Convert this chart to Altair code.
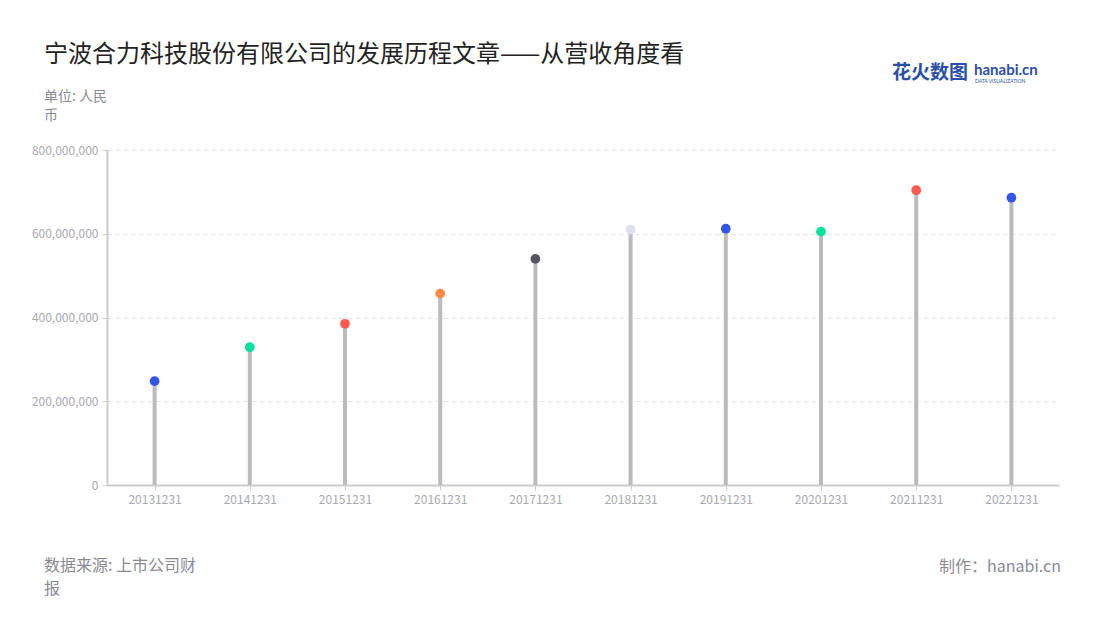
import altair as alt
import pandas as pd

categories = ["20131231", "20141231", "20151231", "20161231", "20171231",
              "20181231", "20191231", "20201231", "20211231", "20221231"]
revenue = [248000000, 329000000, 385000000, 457000000, 540000000,
           610000000, 612000000, 605000000, 704000000, 686000000]
dot_colors = ["#3456E6", "#00E09E", "#FF5A4F", "#FF8A48", "#555562",
              "#DDE1EC", "#3456E6", "#00E09E", "#FF5A4F", "#3456E6"]
y_ticks = [0, 200000000, 400000000, 600000000, 800000000]

df = pd.DataFrame({"date": categories, "revenue": revenue, "color": dot_colors})

FONT = "Noto Sans CJK SC"
W, H = 952, 335

x = alt.X("date:N", sort=categories, title=None,
          scale=alt.Scale(type="point", padding=0.5),
          axis=alt.Axis(labelAngle=0, labelColor="#A8A8B0", labelFontSize=12,
                        labelFont=FONT, domainColor="#CCCCCC", domainWidth=2,
                        tickColor="#CCCCCC", tickSize=5, labelPadding=4, grid=False))
y = alt.Y("revenue:Q", title=None,
          scale=alt.Scale(domain=[0, 800000000]),
          axis=alt.Axis(values=y_ticks, format=",.0f", labelColor="#A8A8B0",
                        labelFontSize=12, labelFont=FONT, domainColor="#CCCCCC",
                        domainWidth=2, tickColor="#CCCCCC", tickSize=5,
                        labelPadding=4, grid=True, gridColor="#E0E0E0",
                        gridDash=[4, 4]))

stems = alt.Chart(df).mark_rule(color="#BBBBBB", strokeWidth=4).encode(
    x=x, y=y, y2=alt.datum(0))
dots = alt.Chart(df).mark_circle(size=95, opacity=1).encode(
    x=x, y=y, color=alt.Color("color:N", scale=None))

def label(text, xv, yv, size, color, align="left", weight="normal", font=FONT,
          baseline="middle", line_height=None):
    kw = dict(align=align, baseline=baseline, fontSize=size, color=color,
              font=font, fontWeight=weight)
    if line_height is not None:
        kw.update(lineBreak="\n", lineHeight=line_height)
    return alt.Chart(pd.DataFrame({"t": [text]})).mark_text(**kw).encode(
        x=alt.value(xv), y=alt.value(yv), text="t:N")

ox, oy = 107, 150
title = label("宁波合力科技股份有限公司的发展历程文章——从营收角度看", 44 - ox, 55 - oy, 24, "#222222")
unit = label("单位: 人民\n币", 44 - ox, 90 - oy, 14, "#8A8A95", baseline="top", line_height=19)
src = label("数据来源: 上市公司财\n报", 44 - ox, 558 - oy, 16, "#8A8A95", baseline="top", line_height=23)
maker = label("制作：hanabi.cn", 1061 - ox, 567 - oy, 16, "#8A8A95", align="right")
logo1 = label("花火数图", 892 - ox, 73 - oy, 19, "#2B4FA8", weight="bold")
logo2 = label("hanabi.cn", 974 - ox, 70 - oy, 15, "#2B4FA8", weight="bold", font="Lato")
logo3 = label("DATA VISUALIZATION", 975 - ox, 81 - oy, 5, "#2B4FA8", font="Lato")

chart = alt.layer(stems, dots, title, unit, src, maker,
                  logo1, logo2, logo3).properties(
    width=W, height=H,
    autosize=alt.AutoSizeParams(type="none"),
    padding={"left": 99, "top": 142, "right": 33, "bottom": 120},
).configure(background="white").configure_view(stroke=None)

chart.save("out.html", embed_options={"renderer": "svg", "actions": False})
